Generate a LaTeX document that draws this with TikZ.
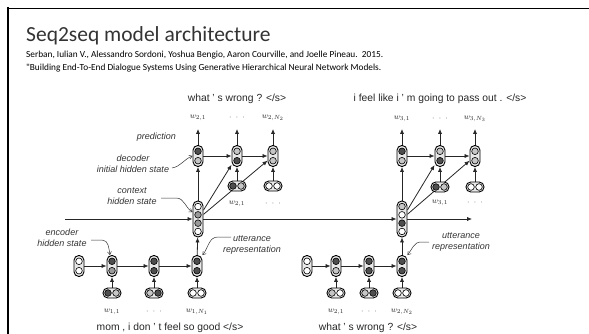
\documentclass[tikz,border=0pt]{standalone}
\usepackage[no-math]{fontspec}
\setmainfont{Liberation Sans}
\newfontfamily\calib{Carlito}
\usetikzlibrary{arrows.meta,backgrounds}
\definecolor{cD}{HTML}{4E4E4E}
\definecolor{cM}{HTML}{9A9A9A}
\definecolor{cL}{HTML}{C6C6C6}
\definecolor{pillfill}{HTML}{E8E8E8}
\tikzset{
  vpill/.style={draw, rectangle, rounded corners=4.8pt, minimum width=10pt, minimum height=21pt, line width=0.9pt, fill=pillfill, inner sep=0pt},
  hpill/.style={draw, rectangle, rounded corners=4.8pt, minimum width=18pt, minimum height=10pt, line width=0.9pt, fill=pillfill, inner sep=0pt},
  cpill/.style={draw, rectangle, rounded corners=4.8pt, minimum width=10pt, minimum height=36pt, line width=0.9pt, fill=pillfill, inner sep=0pt},
  dot/.style={draw, circle, line width=0.6pt, minimum size=6.6pt, inner sep=0pt},
  conn/.style={-{Latex[length=5pt,width=4.2pt]}, line width=0.8pt, black!85},
  ann/.style={-{Straight Barb[length=3pt,width=4pt]}, line width=0.5pt, black!80},
  sent/.style={font=\fontsize{10.3}{12}\selectfont, text=black!85, inner sep=0pt},
  annlab/.style={font=\itshape\fontsize{9}{10.5}\selectfont, text=black!80, align=center, inner sep=0pt},
  wlab/.style={font=\fontsize{8.5}{10}\selectfont, text=black!85, inner sep=0pt},
}
\newcommand\mkvpill[5]{%
  \node[vpill] (#1) at (#2,#3) {};
  \node[dot,fill=#4] (#1-a) at ([yshift=4.7pt]#1.center) {};
  \node[dot,fill=#5] (#1-b) at ([yshift=-4.7pt]#1.center) {};}
\newcommand\mkhpill[5]{%
  \node[hpill] (#1) at (#2,#3) {};
  \node[dot,fill=#4] (#1-a) at ([xshift=-4pt]#1.center) {};
  \node[dot,fill=#5] (#1-b) at ([xshift=4pt]#1.center) {};}
\newcommand\mkctx[7]{%
  \node[cpill] (#1) at (#2,#3) {};
  \node[dot,fill=#4] (#1-a) at ([yshift=12.45pt]#1.center) {};
  \node[dot,fill=#5] (#1-b) at ([yshift=4.15pt]#1.center) {};
  \node[dot,fill=#6] (#1-c) at ([yshift=-4.15pt]#1.center) {};
  \node[dot,fill=#7] (#1-d) at ([yshift=-12.45pt]#1.center) {};}
\begin{document}
\begin{tikzpicture}[x=1pt,y=-1pt]
\useasboundingbox (0,0) rectangle (589,334);
% frame
\coordinate (fr1) at (7.5,340);
\coordinate (fr2) at (7.5,8.5);
\coordinate (fr3) at (595,8.5);
\draw[line width=2pt] (fr1) -- (7.5,7.5);
\draw[line width=1pt] (6.5,8.5) -- (fr3);
% title and citation
\node[anchor=base west, inner sep=0pt, font=\calib\fontsize{21.5}{24}\selectfont, text=black!80] (title) at (26,42) {Seq2seq model architecture};
\node[anchor=base west, inner sep=0pt, font=\calib\fontsize{9.3}{11}\selectfont] (cite1) at (26,58) {Serban, Iulian V., Alessandro Sordoni, Yoshua Bengio, Aaron Courville, and Joelle Pineau.\ \ 2015.};
\node[anchor=base west, inner sep=0pt, font=\calib\fontsize{9.3}{11}\selectfont] (cite2) at (26,71) {"Building End-To-End Dialogue Systems Using Generative Hierarchical Neural Network Models.};

% ---------- left half ----------
\mkvpill{li}{79}{266}{white}{white}
\mkvpill{le1}{112}{266}{cD}{cM}
\mkvpill{le2}{154}{266}{cD}{cD}
\mkvpill{le3}{197}{266}{cD}{cD}
\mkhpill{lx1}{112}{293}{cD}{cL}
\mkhpill{lx2}{154}{293}{cL}{cD}
\mkhpill{lx3}{197}{293}{white}{white}
\mkctx{lctx}{198}{219}{white}{cM}{cM}{white}
\mkvpill{ld1}{198}{156}{cD}{cL}
\mkvpill{ld2}{237}{156}{cL}{cD}
\mkvpill{ld3}{273}{156}{cL}{cL}
\mkhpill{ly2}{237}{186}{cD}{cL}
\mkhpill{ly3}{273}{186}{white}{white}

% ---------- right half ----------
\mkvpill{ri}{307}{266}{white}{white}
\mkvpill{re1}{336}{266}{cD}{cL}
\mkvpill{re2}{369}{266}{cD}{cD}
\mkvpill{re3}{402}{266}{cD}{cD}
\mkhpill{rx1}{336}{293}{cL}{white}
\mkhpill{rx2}{369}{293}{cL}{cD}
\mkhpill{rx3}{402}{293}{white}{white}
\mkctx{rctx}{402}{219}{cL}{white}{cD}{white}
\mkvpill{rd1}{402}{156}{cD}{cL}
\mkvpill{rd2}{440}{156}{cL}{cD}
\mkvpill{rd3}{475}{156}{cL}{cL}
\mkhpill{ry2}{440}{187}{cD}{cL}
\mkhpill{ry3}{475}{187}{white}{white}

% coordinates
\coordinate (hstart) at (65,219);
\coordinate (hend) at (472,219);
\coordinate (lo1) at (198,129);
\coordinate (lo2) at (237,129);
\coordinate (lo3) at (273,129);
\coordinate (ro1) at (402,129);
\coordinate (ro2) at (440,129);
\coordinate (ro3) at (475,129);

% labels
\node[wlab] (lw1) at (198,118) {$w_{2,1}$};
\node[wlab] (lw2) at (237,118) {$\cdot\ \cdot\ \cdot$};
\node[wlab] (lw3) at (273,118) {$w_{2,N_2}$};
\node[wlab] (lw4) at (237,204) {$w_{2,1}$};
\node[wlab] (lw5) at (273,204) {$\cdot\ \cdot\ \cdot$};
\node[wlab] (rw1) at (402,119) {$w_{3,1}$};
\node[wlab] (rw2) at (440,119) {$\cdot\ \cdot\ \cdot$};
\node[wlab] (rw3) at (475,119) {$w_{3,N_3}$};
\node[wlab] (rw4) at (440,203) {$w_{3,1}$};
\node[wlab] (rw5) at (475,203) {$\cdot\ \cdot\ \cdot$};
\node[wlab] (bw1) at (112,312) {$w_{1,1}$};
\node[wlab] (bw2) at (154,312) {$\cdot\ \cdot\ \cdot$};
\node[wlab] (bw3) at (197,312) {$w_{1,N_1}$};
\node[wlab] (bw4) at (336,312) {$w_{2,1}$};
\node[wlab] (bw5) at (369,312) {$\cdot\ \cdot\ \cdot$};
\node[wlab] (bw6) at (402,312) {$w_{2,N_2}$};

% sentences
\node[sent] (s1) at (237,99) {what ' s wrong ? </s>};
\node[sent] (s2) at (440,99) {i feel like i ' m going to pass out . </s>};
\node[sent] (s3) at (170,327.5) {mom , i don ' t feel so good </s>};
\node[sent] (s4) at (368,328) {what ' s wrong ? </s>};

% annotations
\node[annlab, anchor=east] (tpred) at (176,137) {prediction};
\node[annlab] (tdec) at (133,164) {decoder\\initial hidden state};
\node[annlab] (tctx) at (132,196) {context\\hidden state};
\node[annlab] (tenc) at (62,238) {encoder\\hidden state};
\node[annlab] (tutl) at (252,245) {utterance\\representation};
\node[annlab] (tutr) at (461,242) {utterance\\representation};
\coordinate (a1) at (172,168);
\coordinate (a2) at (161,198);
\coordinate (a2b) at (176,198);
\coordinate (a3) at (91,240);
\coordinate (a3b) at (102,240);
\coordinate (a4) at (231,237);
\coordinate (a4b) at (218,237);
\coordinate (a5) at (429,242);
\coordinate (a5b) at (421,242);

\begin{pgfonlayer}{background}
  % left encoder
  \draw[conn] (li) -- (le1);
  \draw[conn] (le1) -- (le2);
  \draw[conn] (le2) -- (le3);
  \draw[conn] (lx1) -- (le1);
  \draw[conn] (lx2) -- (le2);
  \draw[conn] (lx3) -- (le3);
  \draw[conn] (le3) -- (lctx);
  % right encoder
  \draw[conn] (ri) -- (re1);
  \draw[conn] (re1) -- (re2);
  \draw[conn] (re2) -- (re3);
  \draw[conn] (rx1) -- (re1);
  \draw[conn] (rx2) -- (re2);
  \draw[conn] (rx3) -- (re3);
  \draw[conn] (re3) -- (rctx);
  % context line
  \draw[conn] (hstart) -- (lctx);
  \draw[conn] (lctx) -- (rctx);
  \draw[conn] (rctx) -- (hend);
  % left decoder
  \draw[conn] (lctx) -- (ld1);
  \draw[conn] (lctx) -- (ld2);
  \draw[conn] (lctx) -- (ld3);
  \draw[conn] (ld1) -- (ld2);
  \draw[conn] (ld2) -- (ld3);
  \draw[conn] (ly2) -- (ld2);
  \draw[conn] (ly3) -- (ld3);
  \draw[conn] (ld1) -- (lo1);
  \draw[conn] (ld2) -- (lo2);
  \draw[conn] (ld3) -- (lo3);
  % right decoder
  \draw[conn] (rctx) -- (rd1);
  \draw[conn] (rctx) -- (rd2);
  \draw[conn] (rctx) -- (rd3);
  \draw[conn] (rd1) -- (rd2);
  \draw[conn] (rd2) -- (rd3);
  \draw[conn] (ry2) -- (rd2);
  \draw[conn] (ry3) -- (rd3);
  \draw[conn] (rd1) -- (ro1);
  \draw[conn] (rd2) -- (ro2);
  \draw[conn] (rd3) -- (ro3);
\end{pgfonlayer}
% annotation pointers
\draw[ann] (a1) to[out=10,in=200] (ld1.west);
\draw[ann] (a2) -- (a2b) to[out=0,in=150] ([yshift=7pt]lctx.west);
\draw[ann] (a3) -- (a3b) to[out=0,in=100] ([xshift=-2pt]le1.north);
\draw[ann] (a4) -- (a4b) to[out=180,in=50] (le3.north east);
\draw[ann] (a5) -- (a5b) to[out=180,in=50] (re3.north east);
\end{tikzpicture}
\end{document}
